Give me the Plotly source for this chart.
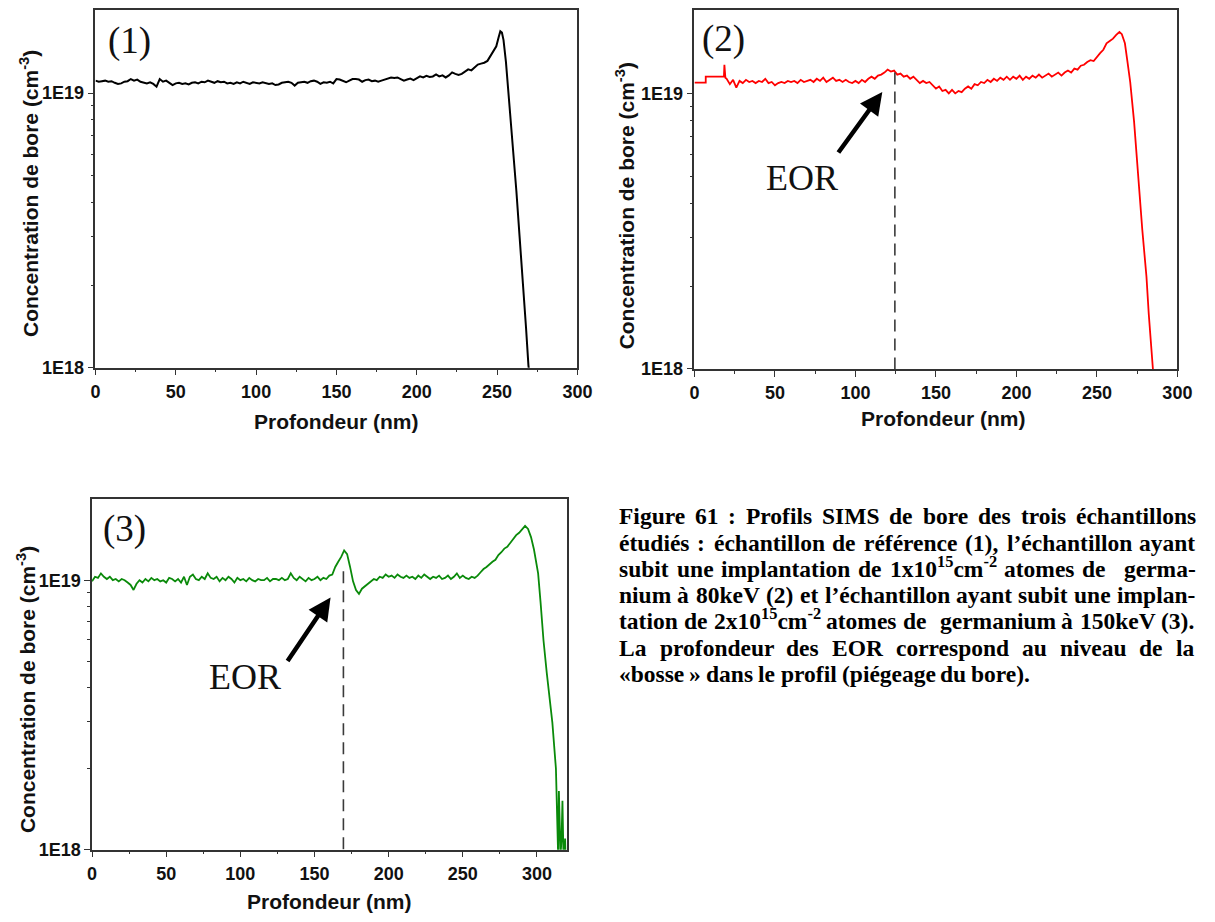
import re
import plotly.graph_objects as go

W, H = 1215, 922

# ---------------- data (concentrations in units of 1E19 cm^-3) ----------------
depth1 = list(range(0, 250, 2)) + [249.5, 251, 252, 253, 254, 255.5, 257, 258.5, 260, 262, 264, 266, 268, 269.5, 270.5]
conc1 = [1.11, 1.10, 1.105, 1.11, 1.10, 1.105, 1.09, 1.08, 1.085, 1.10,
         1.105, 1.125, 1.11, 1.12, 1.10, 1.09, 1.085, 1.095, 1.08, 1.055,
         1.125, 1.10, 1.11, 1.09, 1.07, 1.085, 1.09, 1.08, 1.085, 1.075,
         1.09, 1.095, 1.085, 1.10, 1.095, 1.11, 1.10, 1.09, 1.105, 1.095,
         1.10, 1.085, 1.09, 1.08, 1.095, 1.085, 1.10, 1.09, 1.08, 1.095,
         1.09, 1.085, 1.095, 1.09, 1.08, 1.085, 1.07, 1.075, 1.09, 1.095,
         1.10, 1.09, 1.065, 1.09, 1.095, 1.10, 1.09, 1.105, 1.11, 1.10,
         1.08, 1.095, 1.09, 1.10, 1.085, 1.125, 1.12, 1.105, 1.095, 1.11,
         1.125, 1.125, 1.12, 1.10, 1.115, 1.12, 1.105, 1.11, 1.10, 1.11,
         1.12, 1.125, 1.14, 1.135, 1.14, 1.125, 1.11, 1.12, 1.13, 1.115,
         1.135, 1.15, 1.14, 1.155, 1.145, 1.15, 1.17, 1.15, 1.16, 1.14,
         1.16, 1.19, 1.175, 1.165, 1.175, 1.20, 1.22, 1.21, 1.235, 1.27,
         1.28, 1.29, 1.31, 1.37, 1.43,
         1.48, 1.60, 1.68, 1.66, 1.56, 1.30, 1.02, 0.80, 0.62, 0.44, 0.30, 0.21, 0.14, 0.102, 0.09]

depth2 = [0, 7, 7.01, 18.3, 18.6, 19.2] + list(range(20, 265, 2)) + \
         [265.5, 267.4, 269, 270.7, 273.1, 275.1, 278.2, 280.8, 282.2, 284.8, 285.5]
conc2 = [1.095, 1.095, 1.15, 1.15, 1.27, 1.14,
         1.13, 1.08, 1.12, 1.05, 1.11, 1.09, 1.12, 1.10, 1.11, 1.09,
         1.11, 1.10, 1.13, 1.09, 1.10, 1.07, 1.09, 1.10, 1.09, 1.11,
         1.10, 1.11, 1.09, 1.12, 1.10, 1.11, 1.12, 1.10, 1.13, 1.11,
         1.14, 1.10, 1.12, 1.14, 1.11, 1.12, 1.10, 1.12, 1.10, 1.09,
         1.11, 1.09, 1.12, 1.10, 1.13, 1.15, 1.13, 1.16, 1.17, 1.19,
         1.22, 1.20, 1.21, 1.17, 1.18, 1.15, 1.16, 1.13, 1.15, 1.12,
         1.09, 1.11, 1.09, 1.10, 1.07, 1.04, 1.06, 1.02, 1.03, 1.00,
         1.03, 1.00, 1.02, 1.01, 1.04, 1.06, 1.04, 1.08, 1.07, 1.10,
         1.09, 1.12, 1.10, 1.13, 1.11, 1.14, 1.12, 1.15, 1.12, 1.15,
         1.13, 1.16, 1.12, 1.15, 1.13, 1.16, 1.14, 1.17, 1.14, 1.16,
         1.18, 1.15, 1.17, 1.19, 1.16, 1.19, 1.21, 1.19, 1.23, 1.22,
         1.26, 1.27, 1.30, 1.32, 1.31, 1.36, 1.40, 1.44, 1.52, 1.55,
         1.58, 1.63, 1.67,
         1.64, 1.52, 1.30, 1.10, 0.79, 0.55, 0.32, 0.216, 0.159, 0.10, 0.09]

depth3 = list(range(0, 293, 2)) + [294, 296, 298, 300.8, 302.5, 304.4, 306.6, 308.5, 310.4, 312.8,
                                   313.8, 314.3, 314.8, 315.4, 315.9, 316.6, 317.2, 317.8, 318.4, 319, 319.6]
conc3 = [0.99, 1.03, 1.02, 1.06, 1.03, 1.01, 1.03, 1.00, 1.01, 0.99,
         1.01, 1.00, 0.98, 0.96, 0.92, 0.97, 1.00, 0.98, 1.01, 0.99,
         1.02, 1.00, 1.01, 0.99, 1.00, 0.98, 1.02, 1.01, 0.99, 1.01,
         0.98, 1.03, 0.96, 1.03, 1.05, 1.01, 1.00, 1.03, 1.01, 1.06,
         1.02, 1.01, 1.03, 0.99, 1.02, 1.00, 1.03, 1.01, 0.98, 1.02,
         1.00, 1.01, 0.99, 1.02, 1.00, 0.99, 1.01, 1.00, 1.00, 1.02,
         0.99, 1.01, 1.01, 1.00, 1.02, 1.00, 1.01, 1.06, 1.02, 1.00,
         1.03, 1.01, 0.99, 1.02, 1.00, 1.01, 1.03, 1.00, 1.02, 1.01,
         1.04, 1.05, 1.12, 1.17, 1.22, 1.29, 1.25, 1.12, 0.99, 0.92,
         0.89, 0.93, 0.95, 0.97, 0.99, 1.01, 1.00, 1.03, 1.02, 1.05,
         1.03, 1.04, 1.02, 1.05, 1.03, 1.02, 1.04, 1.02, 1.03, 1.01,
         1.04, 1.02, 1.05, 1.03, 1.01, 1.03, 1.02, 1.04, 1.01, 1.02,
         1.04, 1.01, 1.03, 1.06, 1.02, 1.04, 1.02, 1.01, 1.03, 1.02,
         1.04, 1.07, 1.10, 1.12, 1.15, 1.17, 1.19, 1.24, 1.27, 1.31,
         1.33, 1.38, 1.43, 1.47, 1.50, 1.55, 1.59,
         1.55, 1.445, 1.30, 1.06, 0.82, 0.60, 0.454, 0.37, 0.296, 0.20,
         0.14, 0.095, 0.165, 0.12, 0.095, 0.11, 0.152, 0.10, 0.09, 0.11, 0.09]

eor_depth = [124.5, 169.5]   # panels (2), (3)
eor_top = [1.19, 1.08]       # 1E19 units
eor_bottom = 0.1

panel_labels = ["(1)", "(2)", "(3)"]
x_ticks = [0, 50, 100, 150, 200, 250, 300]
y_ticks = [1e18, 1e19]
y_ticktext = ["1E18", "1E19"]
x_title = "Profondeur (nm)"
y_title = "Concentration de bore (cm<sup>-3</sup>)"

caption_lines = [
    "Figure 61 : Profils SIMS de bore des trois échantillons",
    "étudiés : échantillon de référence (1), l’échantillon ayant",
    "subit une implantation de 1x10<sup>15</sup>cm<sup>-2</sup> atomes de  germa-",
    "nium à 80keV (2) et l’échantillon ayant subit une implan-",
    "tation de 2x10<sup>15</sup>cm<sup>-2</sup> atomes de  germanium à 150keV (3).",
    "La profondeur des EOR correspond au niveau de la",
    "«bosse » dans le profil (piégeage du bore).",
]

# ---------------- geometry helpers ----------------
def fx(p):
    return p / W


def fy(p):
    return 1 - p / H


# pixel boxes of the three plot areas: (left, right, top, bottom)
boxes = [(92, 582, 10, 371.7), (701, 1192, 10, 373), (88.5, 571, 504, 859)]
x_ranges = [[0, 300], [0, 300], [0, 320]]
y_range = [18, 19.303]
colors = ["#000000", "#ff0000", "#0a8a0a"]
widths = [2.0, 1.8, 1.8]
series = [(depth1, conc1), (depth2, conc2), (depth3, conc3)]

fig = go.Figure()
suffix = ["", "2", "3"]

for i, (d, c) in enumerate(series):
    fig.add_trace(go.Scatter(x=d, y=[v * 1e19 for v in c], mode="lines",
                             line=dict(color=colors[i], width=widths[i]),
                             xaxis="x" + suffix[i], yaxis="y" + suffix[i],
                             showlegend=False, hoverinfo="skip"))

for k in range(2):
    s = suffix[k + 1]
    fig.add_trace(go.Scatter(x=[eor_depth[k], eor_depth[k]], y=[eor_top[k] * 1e19, eor_bottom * 1e19],
                             mode="lines", line=dict(color="#3a3a3a", width=1.6, dash="12px,7px"),
                             xaxis="x" + s, yaxis="y" + s, showlegend=False, hoverinfo="skip"))

tickfont = dict(family="Liberation Sans", size=18, color="#111111", weight="bold")
layout = dict(width=W, height=H, margin=dict(l=0, r=0, t=0, b=0),
              paper_bgcolor="white", plot_bgcolor="white", showlegend=False)

for i, (l, r, t, b) in enumerate(boxes):
    s = suffix[i]
    minor_x = [v for v in range(25, 325, 50) if v <= x_ranges[i][1]]
    layout["xaxis" + s] = dict(
        domain=[fx(l), fx(r)], range=x_ranges[i], anchor="y" + s,
        showline=True, linecolor="#333333", linewidth=1.5, mirror=True,
        showgrid=False, zeroline=False, ticks="outside", ticklen=6, tickwidth=1.4,
        tickcolor="#333333", tickvals=x_ticks, tickfont=tickfont, ticklabelstandoff=1,
        minor=dict(tickvals=minor_x, ticks="outside", ticklen=3, tickwidth=1.2, tickcolor="#333333"),
    )
    layout["yaxis" + s] = dict(
        domain=[fy(b), fy(t)], type="log", range=y_range, anchor="x" + s,
        showline=True, linecolor="#333333", linewidth=1.5, mirror=True,
        showgrid=False, zeroline=False, ticks="outside", ticklen=6, tickwidth=1.4,
        tickcolor="#333333", tickvals=y_ticks, ticktext=y_ticktext, tickfont=tickfont,
        minor=dict(tickvals=[m * 1e18 for m in range(2, 10)], ticks="outside", ticklen=3,
                   tickwidth=1.2, tickcolor="#333333"),
    )

annotations = []
title_font = dict(family="Liberation Sans", size=21, color="#111111", weight="bold")
xtitle_pos = [(337, 426), (954, 423.5), (329, 911)]
ytitle_pos = [(24.5, 196), (630, 208), (22, 697)]
for i in range(3):
    annotations.append(dict(text=x_title, x=fx(xtitle_pos[i][0]), y=fy(xtitle_pos[i][1]),
                            xref="paper", yref="paper", showarrow=False, font=title_font,
                            xanchor="center", yanchor="middle"))
    annotations.append(dict(text=y_title, x=fx(ytitle_pos[i][0]), y=fy(ytitle_pos[i][1]),
                            xref="paper", yref="paper", showarrow=False, font=title_font,
                            textangle=-90, xanchor="center", yanchor="middle"))

serif = "Liberation Serif"
label_pos = [(127, 41), (731, 39), (121, 535)]
for i in range(3):
    annotations.append(dict(text=panel_labels[i], x=fx(label_pos[i][0]), y=fy(label_pos[i][1]),
                            xref="paper", yref="paper", showarrow=False,
                            font=dict(family=serif, size=37, color="#111111"),
                            xanchor="center", yanchor="middle"))

eor_text_pos = [(810, 180), (244, 684)]
arrow_head = [(892, 93), (331, 604)]
arrow_tail = [(847, 155), (287, 669)]
for k in range(2):
    annotations.append(dict(text="EOR", x=fx(eor_text_pos[k][0]), y=fy(eor_text_pos[k][1]),
                            xref="paper", yref="paper", showarrow=False,
                            font=dict(family=serif, size=36, color="#111111"),
                            xanchor="center", yanchor="middle"))
    hx, hy = arrow_head[k]
    tx, ty = arrow_tail[k]
    annotations.append(dict(text="", x=fx(hx), y=fy(hy), xref="paper", yref="paper",
                            showarrow=True, ax=tx - hx, ay=ty - hy, arrowhead=2,
                            arrowsize=1.0, arrowwidth=4.5, arrowcolor="#000000"))

# ---------------- caption (justified, Times-Bold metrics) ----------------
CW = {' ': 250, 'a': 500, 'b': 556, 'c': 444, 'd': 556, 'e': 444, 'f': 333, 'g': 500, 'h': 556,
      'i': 278, 'j': 333, 'k': 556, 'l': 278, 'm': 833, 'n': 556, 'o': 500, 'p': 556, 'q': 556,
      'r': 444, 's': 389, 't': 333, 'u': 556, 'v': 500, 'w': 722, 'x': 500, 'y': 500, 'z': 444,
      'A': 722, 'B': 667, 'C': 722, 'D': 722, 'E': 667, 'F': 611, 'G': 778, 'H': 778, 'I': 389,
      'J': 500, 'K': 778, 'L': 667, 'M': 944, 'N': 722, 'O': 778, 'P': 611, 'Q': 778, 'R': 722,
      'S': 556, 'T': 667, 'U': 722, 'V': 722, 'W': 1000, 'X': 722, 'Y': 722, 'Z': 667,
      '(': 333, ')': 333, ':': 333, ',': 250, '.': 250, '-': 333, '’': 333, '«': 500, '»': 500,
      'é': 444, 'à': 500}
for dgt in "0123456789":
    CW[dgt] = 500

cap_size = 23.5


def text_w(s, size):
    w, sc = 0.0, 1.0
    for tok in re.split(r"(</?sup>)", s):
        if tok == "<sup>":
            sc = 0.7
        elif tok == "</sup>":
            sc = 1.0
        else:
            w += sum(CW.get(ch, 500) for ch in tok) * sc
    return w * size / 1000.0


cap_x0, cap_x1 = 624, 1209
base0, lstep = 535, 26.6
cap_font = dict(family=serif, size=cap_size, color="#000000", weight="bold")
for li, line in enumerate(caption_lines):
    words = line.split(" ")
    ws = [text_w(w, cap_size) for w in words]
    if li < len(caption_lines) - 1:
        gap = (cap_x1 - cap_x0 - sum(ws)) / (len(words) - 1)
    else:
        gap = CW[' '] * cap_size / 1000.0
    xpos = cap_x0
    ybot = base0 + li * lstep
    for w, wd in zip(words, ws):
        if w:
            annotations.append(dict(text=w, x=fx(xpos), y=fy(ybot), xref="paper", yref="paper",
                                    showarrow=False, font=cap_font, xanchor="left", yanchor="bottom",
                                    borderpad=0, borderwidth=0))
        xpos += wd + gap

layout["annotations"] = annotations
fig.update_layout(**layout)

fig.write_html("out.html", config={"displayModeBar": False},
               post_script="document.body.style.margin='0';")
